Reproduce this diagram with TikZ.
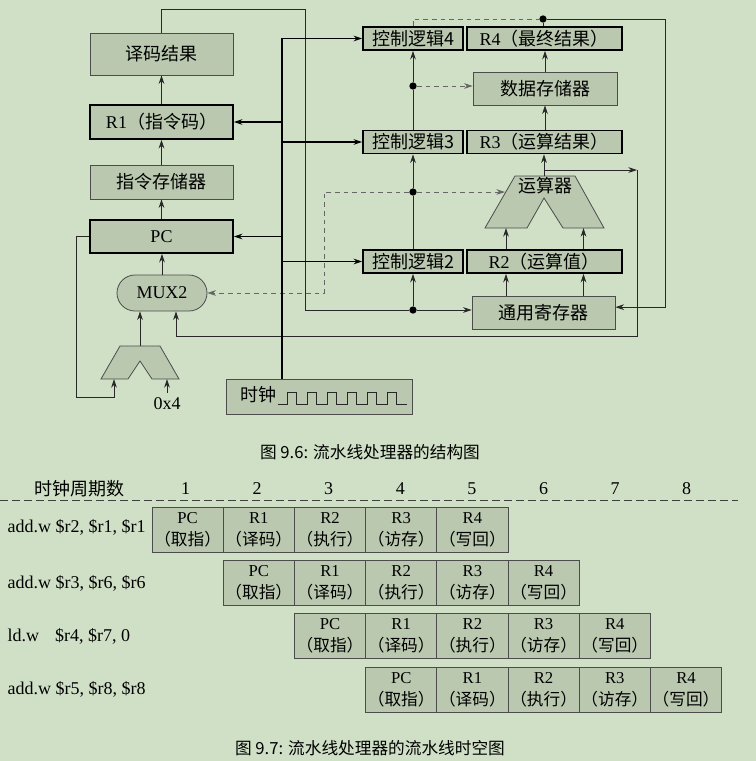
\documentclass[tikz,border=0pt]{standalone}
\usepackage{fontspec}
\setmainfont{Liberation Serif}
\newfontfamily\cjk{Noto Sans CJK SC}
\usepackage{tikz}
\usetikzlibrary{arrows.meta, positioning}
\definecolor{PageGreen}{RGB}{208,224,198}
\definecolor{BoxGreen}{RGB}{186,200,176}
\definecolor{WireGray}{RGB}{40,40,40}
\newcommand{\dfont}{\fontsize{13.5}{16}\selectfont}
\newcommand{\cfont}{\fontsize{12.5}{16.5}\selectfont}
\newcommand{\capfont}{\fontsize{12.5}{15}\selectfont\cjk}

\begin{document}
\begin{tikzpicture}[
    x=0.75pt, y=-0.75pt,
    font=\dfont,
    wire/.style={line width=0.6pt, WireGray},
    bus/.style={line width=1.3pt, black},
    ctl/.style={line width=0.6pt, black!60, dash pattern=on 3.5pt off 3pt},
    arr/.style={-{Stealth[length=6.5pt, width=4.3pt]}},
    blk/.style={draw=black!70, line width=0.6pt, fill=BoxGreen, inner sep=0pt},
    reg/.style={blk, draw=black, line width=1.3pt},
    dot/.style={circle, fill=black, inner sep=0pt, minimum size=5.5pt},
    cell/.style={blk, minimum width=53.4pt, minimum height=33.75pt, align=center, font=\cfont},
    node distance=1.5pt,
]
\fill[PageGreen] (0,0) rectangle (756,761);
\useasboundingbox (0,0) rectangle (756,761);

% ============ 结构图：左列 ============
\node[blk, minimum width=107.25pt, minimum height=31.5pt] (dec) at (161.5,54) {\cjk 译码结果};
\node[reg, minimum width=107.25pt, minimum height=25.5pt] (r1) at (161.5,122) {R1{\cjk（指令码）}};
\node[blk, minimum width=107.25pt, minimum height=25.5pt] (imem) at (161.5,182) {\cjk 指令存储器};
\node[reg, minimum width=107.25pt, minimum height=24.75pt] (pc) at (161.5,236.5) {PC};
\node[blk, minimum width=67.5pt, minimum height=27pt, rounded corners=13.5pt] (mux) at (162,293) {MUX2};

% 加法器
\draw[blk] (120,346) -- (160,346) -- (179,379) -- (152,379) -- (140,361) -- (128,379) -- (101,379) -- cycle;
\coordinate (addo) at (140,346);
\coordinate (adda) at (114,379);
\coordinate (addb) at (167,379);
\node (c4) at (167,404) {0x4};

% 时钟
\node[blk, minimum width=139.5pt, minimum height=26.25pt] (clk) at (319,396.5) {};
\node (clkl) at (258,395) {\cjk 时钟};
\draw[wire] (278,404) -- (287,404)
    \foreach \i in {0,...,5} { -- ++(0,-12) -- ++(9,0) -- ++(0,12) -- ++(11,0) };

% ============ 结构图：右列 ============
\node[reg, minimum width=75pt, minimum height=17.25pt] (cl4) at (413,38.5) {\cjk 控制逻辑4};
\node[reg, minimum width=116.25pt, minimum height=17.25pt, right=of cl4] (r4) {R4{\cjk（最终结果）}};
\node[blk, minimum width=108pt, minimum height=24.75pt] (dmem) at (545,88.5) {\cjk 数据存储器};
\node[reg, minimum width=75pt, minimum height=17.25pt] (cl3) at (413,142) {\cjk 控制逻辑3};
\node[reg, minimum width=116.25pt, minimum height=17.25pt, right=of cl3] (r3) {R3{\cjk（运算结果）}};
\node[reg, minimum width=75pt, minimum height=17.25pt] (cl2) at (413,261.5) {\cjk 控制逻辑2};
\node[reg, minimum width=116.25pt, minimum height=17.25pt, right=of cl2] (r2) {R2{\cjk（运算值）}};
\node[blk, minimum width=107.25pt, minimum height=24.75pt] (greg) at (543.5,312.5) {\cjk 通用寄存器};

% 运算器
\draw[blk] (515,176) -- (575,176) -- (604,228) -- (563,228) -- (544,198) -- (527,228) -- (485,228) -- cycle;
\node (alu) at (545,186) {\cjk 运算器};
\coordinate (alui) at (505,192);
\coordinate (alua) at (506,228);
\coordinate (alub) at (583.5,228);
\coordinate (aluo) at (544,176);
\coordinate (fb) at (637,170);

\node[dot] (d1) at (413,310) {};
\node[dot] (d2) at (413,192) {};
\node[dot] (d3) at (413,86) {};
\node[dot] (d4) at (543,19) {};
\coordinate (bus) at (282,0);

% 数据通路
\draw[wire, arr] (imem) -- (r1);
\draw[wire, arr] (r1) -- (dec);
\draw[wire, arr] (pc) -- (imem);
\draw[wire, arr] (mux.north) -- (mux.north |- pc.south);
\draw[wire, arr] (addo) -- (addo |- mux.south);
\draw[wire, arr] (pc.west) -| (76,397) -| (adda);
\draw[wire, arr] (c4) -- (addb);
\draw[wire, arr] (aluo) -- (aluo |- r3.south);
\draw[wire, arr] ([yshift=4.5pt]aluo) -- (fb);
\draw[wire, arr] (fb) -- (637,336) -| ([xshift=10.5pt]mux.south);
\draw[wire, arr] (alua |- r2.north) -- (alua);
\draw[wire, arr] (alub |- r2.north) -- (alub);
\draw[wire, arr] (alua |- greg.north) -- (alua |- r2.south);
\draw[wire, arr] (alub |- greg.north) -- (alub |- r2.south);
\draw[wire, arr] (dmem.south |- r3.north) -- (dmem.south);
\draw[wire, arr] (dmem.north) -- (dmem.north |- r4.south);
\draw[wire] (d4) -- (d4 |- r4.north);
\draw[wire, arr] (d4) -| ([yshift=4pt, xshift=37.5pt]greg.east) -- ([yshift=4pt]greg.east);
\draw[wire] (dec.north) |- (305,9) |- (d1);
\draw[wire, arr] (d1) -- (d1 -| greg.west);

% 控制信号
\draw[wire, arr] (d1) -- (cl2);
\draw[wire] (cl2) -- (d2);
\draw[wire, arr] (d2) -- (cl3);
\draw[wire] (cl3) -- (d3);
\draw[wire, arr] (d3) -- (cl4);
\draw[ctl, arr] (d3) -- (d3 -| dmem.west);
\draw[ctl, arr] (d2) -- (alui);
\draw[ctl, arr] (d2) -| (324,293) -- (mux.east);
\draw[ctl] (cl4.north) |- (d4);

% 时钟总线
\draw[bus, arr] (bus |- clk.north) |- (cl4.west);
\draw[bus, arr] (bus |- r1.east) -- (r1.east);
\draw[bus, arr] (bus |- cl3.west) -- (cl3.west);
\draw[bus, arr] (bus |- pc.east) -- (pc.east);
\draw[bus, arr] (bus |- cl2.west) -- (cl2.west);

\node[font=\capfont] (cap1) at (370,452) {图 9.6: 流水线处理器的结构图};

% ============ 时空图 ============
\node (hdr) at (80,489) {\cjk 时钟周期数};
\foreach \k in {1,...,8}
    \node (n\k) at ({185.5+71.6*(\k-1)},489) {\k};
\draw[ctl, black!75, dash pattern=on 6pt off 3pt] (0,500) -- (738,500);

\node[anchor=west] (i0) at (3,527) {add.w \$r2, \$r1, \$r1};
\node[anchor=west] (i1) at (3,583) {add.w \$r3, \$r6, \$r6};
\node[anchor=west] (i2) at (3,636) {ld.w\hspace{12pt}\$r4, \$r7, 0};
\node[anchor=west] (i3) at (3,689) {add.w \$r5, \$r8, \$r8};

\foreach \ri in {0,...,3}{
    \foreach \ci/\rname/\sname in {0/PC/取指, 1/R1/译码, 2/R2/执行, 3/R3/访存, 4/R4/写回}{
        \node[cell] (s\ri\ci) at ({187.6+71.2*(\ri+\ci)},{529.5+53.33*\ri}) {\rname\\{\cjk（\sname）}};
    }
}

\node[font=\capfont] (cap2) at (370,748) {图 9.7: 流水线处理器的流水线时空图};

\end{tikzpicture}
\end{document}
